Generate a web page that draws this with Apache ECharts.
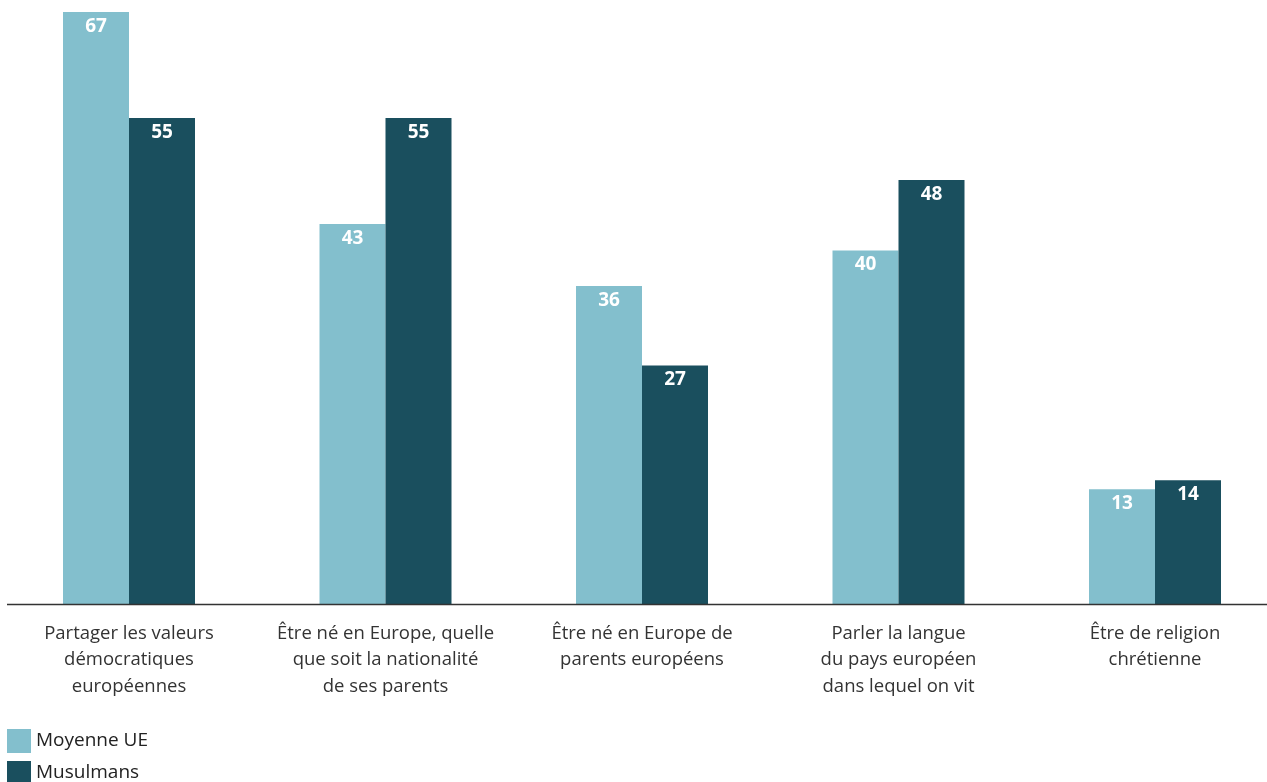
<!DOCTYPE html>
<html><head><meta charset="utf-8">
<script src="https://cdn.jsdelivr.net/npm/echarts@6/dist/echarts.min.js"></script>
<style>html,body{margin:0;padding:0;background:#fff}#c{width:1267px;height:782px}</style>
</head><body><div id="c"></div>
<script>
const categories = [
  "Partager les valeurs\ndémocratiques\neuropéennes",
  "Être né en Europe, quelle\nque soit la nationalité\nde ses parents",
  "Être né en Europe de\nparents européens",
  "Parler la langue\ndu pays européen\ndans lequel on vit",
  "Être de religion\nchrétienne"
];
const moyenneUE = [67, 43, 36, 40, 13];
const musulmans = [55, 55, 27, 48, 14];
const seriesNames = ["Moyenne UE", "Musulmans"];

const chart = echarts.init(document.getElementById('c'));
const font = "'Open Sans', 'DejaVu Sans', sans-serif";
const lbl = {show: true, position: 'insideTop', distance: 5, color: '#fff', fontWeight: 'bold', fontSize: 19, fontFamily: font};
chart.setOption({
  animation: false,
  grid: {left: 0.75, width: 1282.5, top: 12, height: 592, containLabel: false, outerBoundsMode: 'none'},
  legend: {
    orient: 'vertical', left: 7, top: 729, height: 120, padding: 0, itemWidth: 24, itemHeight: 24, itemGap: 8,
    icon: 'rect', textStyle: {fontSize: 19, color: '#222', fontFamily: font},
    data: seriesNames
  },
  xAxis: {
    type: 'category', data: categories,
    axisLine: {show: false}, axisTick: {show: false},
    axisLabel: {color: '#333', fontSize: 18.5, lineHeight: 26.5, margin: 16, fontFamily: font, interval: 0}
  },
  yAxis: {type: 'value', min: 0, max: 67, show: false, splitLine: {show: false}},
  graphic: [{type: 'line', shape: {x1: 7, y1: 604.5, x2: 1267, y2: 604.5}, style: {stroke: '#333', lineWidth: 1.5}, z: 10}],
  series: [
    {name: seriesNames[0], type: 'bar', data: moyenneUE, barWidth: 66, barGap: '0%', itemStyle: {color: '#83bfcd'}, label: lbl},
    {name: seriesNames[1], type: 'bar', data: musulmans, barWidth: 66, barGap: '0%', itemStyle: {color: '#1a4f5e'}, label: lbl}
  ]
});
</script></body></html>
